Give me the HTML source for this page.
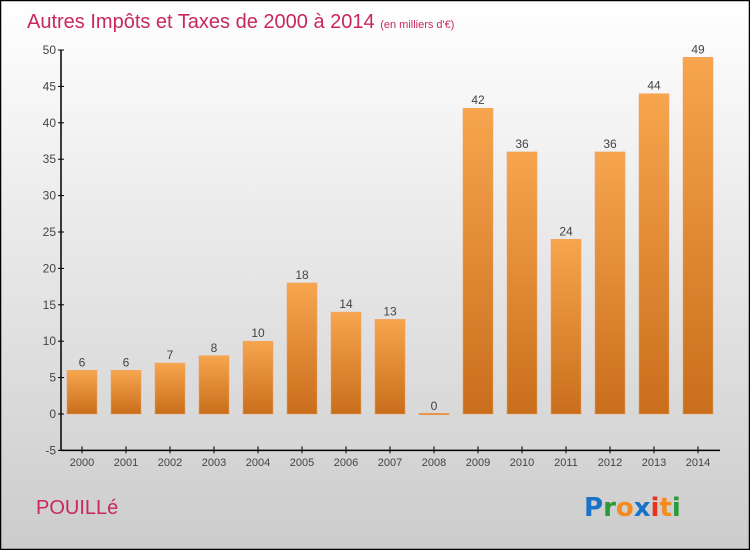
<!DOCTYPE html>
<html><head><meta charset="utf-8"><style>
html,body{margin:0;padding:0}
body{width:750px;height:550px;overflow:hidden;font-family:"Liberation Sans",sans-serif}
</style></head><body>
<svg id="chart" width="750" height="550" xmlns="http://www.w3.org/2000/svg">
<defs>
<linearGradient id="bg" x1="0" y1="0" x2="0" y2="1"><stop offset="0" stop-color="#ffffff"/><stop offset="1" stop-color="#cccccc"/></linearGradient>
<linearGradient id="bar" x1="0" y1="0" x2="0" y2="1"><stop offset="0" stop-color="#f7a54e"/><stop offset="1" stop-color="#c96e1c"/></linearGradient>
</defs>
<rect x="0.5" y="0.5" width="749" height="549" fill="url(#bg)" stroke="#000" stroke-width="1.5"/>
<text x="27" y="28" font-size="20" fill="#c8285a">Autres Impôts et Taxes de 2000 à 2014 <tspan font-size="11">(en milliers d'€)</tspan></text>
<g id="plot"></g>
<text x="36" y="514" font-size="20" fill="#c8285a">POUILLé</text>
<g font-size="26" font-weight="bold" font-family="'DejaVu Sans',sans-serif">
<text x="584" y="516" fill="#1a73c8">P<tspan fill="#2a9a3a">r</tspan><tspan fill="#f58a1f">o</tspan><tspan fill="#1a73c8">x</tspan><tspan fill="#e8321e">i</tspan><tspan fill="#f58a1f">t</tspan><tspan fill="#2a9a3a">i</tspan></text>
</g>
</svg>
<script>
const years=["2000","2001","2002","2003","2004","2005","2006","2007","2008","2009","2010","2011","2012","2013","2014"];
const values=[6,6,7,8,10,18,14,13,0,42,36,24,36,44,49];
const yTicks=[-5,0,5,10,15,20,25,30,35,40,45,50];
const NS="http://www.w3.org/2000/svg";
const g=document.getElementById('plot');
const y=v=>414-(v)*7.28;
const x=i=>82+i*44;
function mk(t,a){const e=document.createElementNS(NS,t);for(const k in a)e.setAttribute(k,a[k]);g.appendChild(e);return e;}
let ax=mk('line',{x1:61,y1:y(50),x2:61,y2:y(-5),stroke:'#000','stroke-width':1.5});


let bx=mk('line',{x1:61,y1:y(-5),x2:720,y2:y(-5),stroke:'#000','stroke-width':1.5});


yTicks.forEach(v=>{
  let t=mk('line',{x1:58,x2:64,y1:y(v),y2:y(v),stroke:'#000'});
  
  
  let l=mk('text',{x:56,y:y(v)+4,'font-size':12,fill:'#444','text-anchor':'end'});
  l.textContent=v;
  
  
});
years.forEach((yr,i)=>{
  const v=values[i];
  let t=mk('line',{x1:x(i),x2:x(i),y1:y(-5)-4,y2:y(-5)+3,stroke:'#000'});
  
  
  let l=mk('text',{x:x(i),y:466,'font-size':11,fill:'#444','text-anchor':'middle'});
  l.textContent=yr;
  
  
  const top=y(Math.max(v,0)),h=Math.max(Math.abs(y(v)-y(0)),1.5);
  let b=mk('rect',{x:x(i)-15,y:v===0?y(0)-0.75:top,width:30,height:h,fill:'url(#bar)',stroke:'#f0a060','stroke-width':0.5});
  
  
  let vl=mk('text',{x:x(i),y:(v===0?y(0):top)-4,'font-size':12,fill:'#444','text-anchor':'middle'});
  vl.textContent=v;
  
  
});
</script>
</body></html>
